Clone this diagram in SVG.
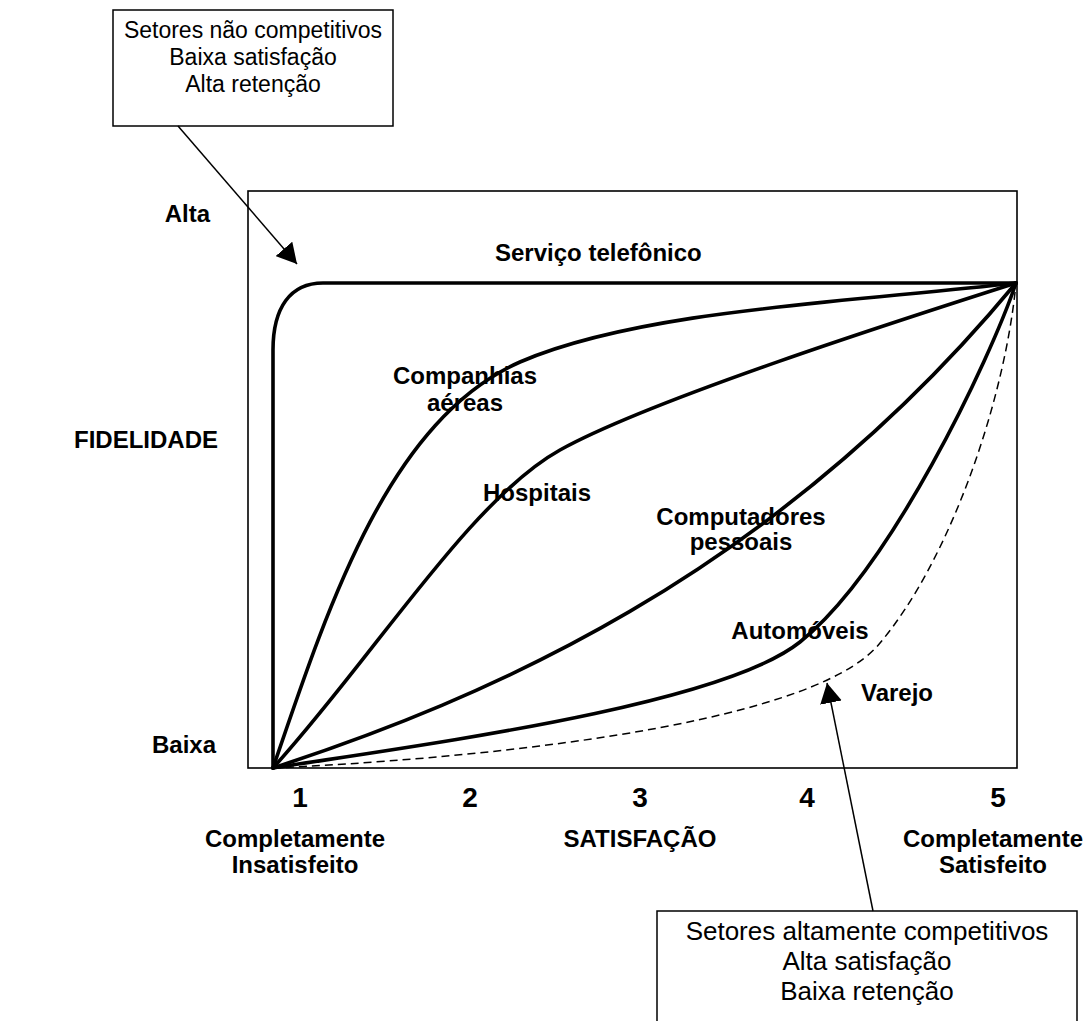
<svg xmlns="http://www.w3.org/2000/svg" width="1086" height="1021" viewBox="0 0 1086 1021">
  <style>
    .bg { fill: #ffffff; }
    .frame { fill: none; stroke: #000; stroke-width: 1.6; }
    .box { fill: #ffffff; stroke: #000; stroke-width: 1.5; }
    .curve { fill: none; stroke: #000; stroke-width: 3.6; stroke-linejoin: round; stroke-linecap: round; }
    .dashed { fill: none; stroke: #000; stroke-width: 1.5; stroke-dasharray: 8 5; }
    .pointer { fill: none; stroke: #000; stroke-width: 1.5; }
    .lbl { font-family: "Liberation Sans", Arial, sans-serif; font-weight: bold; font-size: 24px; fill: #000; }
    .num { font-family: "Liberation Sans", Arial, sans-serif; font-weight: bold; font-size: 28px; fill: #000; text-anchor: middle; }
    .note { font-family: "Liberation Sans", Arial, sans-serif; font-size: 23px; fill: #000; text-anchor: middle; }
    .note-lg { font-size: 26px; }
    .mid { text-anchor: middle; }
    .end { text-anchor: end; }
  </style>
  <defs>
    <marker id="head" viewBox="0 0 20 22" refX="20" refY="11" markerWidth="20" markerHeight="22" markerUnits="userSpaceOnUse" orient="auto">
      <path d="M0,0 L20,11 L0,22 z" fill="#000"/>
    </marker>
  </defs>

  <rect class="bg" x="0" y="0" width="1086" height="1021"/>

  <!-- plot area -->
  <g id="plot-frame">
    <rect class="frame" x="248" y="191" width="769" height="577"/>
  </g>

  <!-- axis labels -->
  <g id="axis-y">
    <text class="lbl end" x="210" y="222">Alta</text>
    <text class="lbl end" x="218" y="448">FIDELIDADE</text>
    <text class="lbl end" x="216" y="753">Baixa</text>
  </g>
  <g id="axis-x">
    <text class="num" x="300" y="807">1</text>
    <text class="num" x="470" y="807">2</text>
    <text class="num" x="640" y="807">3</text>
    <text class="num" x="807" y="807">4</text>
    <text class="num" x="998" y="807">5</text>
    <text class="lbl mid" x="295" y="847">Completamente</text>
    <text class="lbl mid" x="295" y="873">Insatisfeito</text>
    <text class="lbl mid" x="640" y="847">SATISFAÇÃO</text>
    <text class="lbl mid" x="993" y="847">Completamente</text>
    <text class="lbl mid" x="993" y="873">Satisfeito</text>
  </g>

  <!-- industry curves -->
  <g id="curves">
    <g id="servico-telefonico">
      <path class="curve" d="M273,768 V350 C273,308 290,283 323,283 H1016"/>
      <text class="lbl" x="495" y="261">Serviço telefônico</text>
    </g>
    <g id="companhias-aereas">
      <path class="curve" d="M273,768 C330,600 390,420 520,362 C640,310 850,302 1016,283"/>
      <text class="lbl mid" x="465" y="384">Companhias</text>
      <text class="lbl mid" x="465" y="411">aéreas</text>
    </g>
    <g id="hospitais">
      <path class="curve" d="M273,768 C373,658 470,500 560,450 C650,400 900,320 1016,283"/>
      <text class="lbl mid" x="537" y="501">Hospitais</text>
    </g>
    <g id="computadores-pessoais">
      <path class="curve" d="M273,768 C480,700 770,580 1016,283"/>
      <text class="lbl mid" x="741" y="525">Computadores</text>
      <text class="lbl mid" x="741" y="550">pessoais</text>
    </g>
    <g id="automoveis">
      <path class="curve" d="M273,768 C420,745 720,706 800,642 C890,570 990,360 1016,283"/>
      <text class="lbl mid" x="800" y="639">Automóveis</text>
    </g>
    <g id="varejo">
      <path class="dashed" d="M273,768 C450,760 810,730 880,643 C950,560 1005,400 1016,283"/>
      <text class="lbl mid" x="897" y="701">Varejo</text>
    </g>
  </g>

  <!-- callouts -->
  <g id="note-low-competition">
    <rect class="box" x="113" y="10" width="280" height="116"/>
    <text class="note" x="253" y="38">Setores não competitivos</text>
    <text class="note" x="253" y="65">Baixa satisfação</text>
    <text class="note" x="253" y="92">Alta retenção</text>
  </g>
  <g id="note-high-competition">
    <rect class="box" x="657" y="911" width="420" height="120"/>
    <text class="note note-lg" x="867" y="940">Setores altamente competitivos</text>
    <text class="note note-lg" x="867" y="970">Alta satisfação</text>
    <text class="note note-lg" x="867" y="1000">Baixa retenção</text>
  </g>

  <!-- pointers from callouts -->
  <g id="connectors">
    <line class="pointer" x1="178" y1="126" x2="297" y2="264" marker-end="url(#head)"/>
    <line class="pointer" x1="873" y1="911" x2="827" y2="683" marker-end="url(#head)"/>
  </g>
</svg>
